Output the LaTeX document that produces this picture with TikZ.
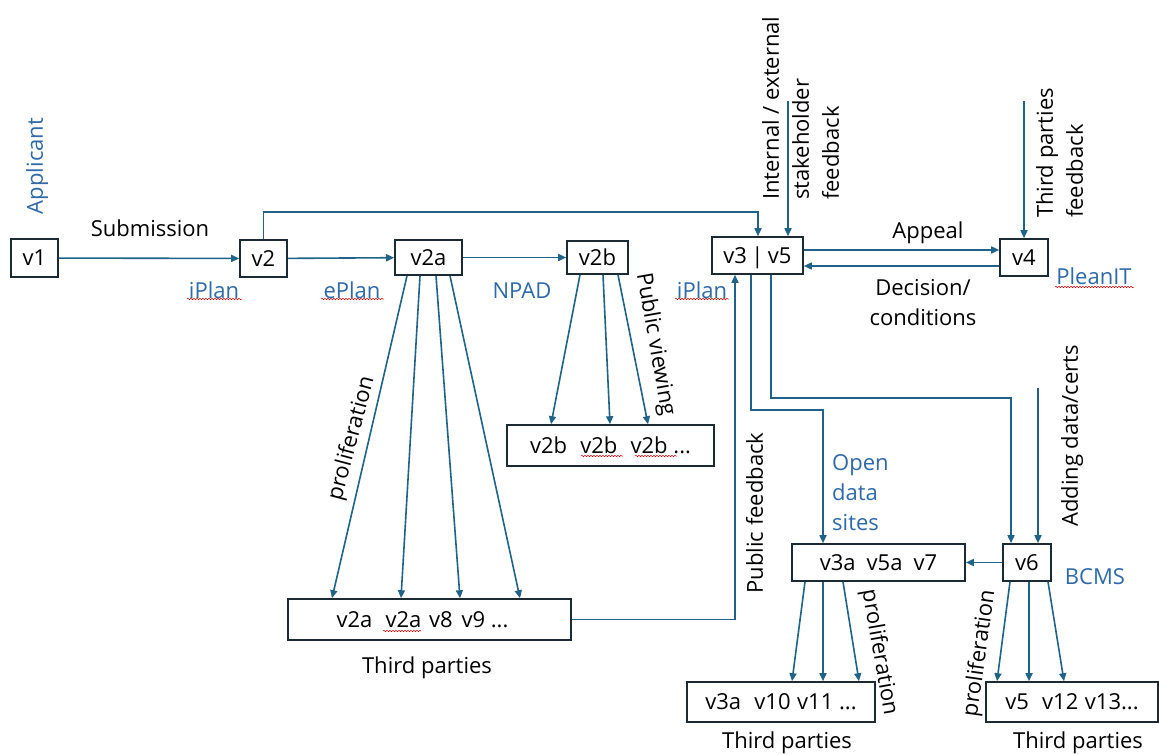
\documentclass[tikz,border=0pt]{standalone}
\usepackage{fontspec}
\setmainfont{Open Sans}
\usetikzlibrary{arrows.meta,decorations.pathmorphing}
\definecolor{linec}{HTML}{1F6388}
\definecolor{bluet}{HTML}{2E6AA8}
\definecolor{boxc}{HTML}{1B2A33}
\newcommand\fs{\fontsize{22}{30}\selectfont}
\begin{document}
\begin{tikzpicture}[x=1pt,y=-1pt,
 box/.style={draw=boxc,line width=1.6pt,inner sep=0pt,font=\fs,text height=15.5pt,text depth=0pt},
 lbl/.style={inner sep=0pt,font=\fs,text height=15.5pt,text depth=0pt},
 blbl/.style={lbl,text=bluet},
 mlbl/.style={inner sep=0pt,font=\fs},
 conn/.style={draw=linec,line width=1.6pt,-{Triangle[length=8pt,width=7pt]}},
 squig/.style={draw=red!80!black,line width=0.5pt,decorate,decoration={snake,amplitude=0.7pt,segment length=3pt}}
]
\path[use as bounding box, fill=white] (0,0) rectangle (1159,753);

% boxes
\node[box,minimum width=47pt,minimum height=38pt] (v1) at (34.5,258) {v1};
\node[box,minimum width=47pt,minimum height=37pt] (v2) at (263.5,258.5) {v2};
\node[box,minimum width=67pt,minimum height=35pt] (v2a) at (428.5,257.5) {v2a};
\node[box,minimum width=61pt,minimum height=33pt] (v2b) at (597.5,257.5) {v2b};
\node[box,minimum width=91pt,minimum height=37pt] (v3) at (757.5,255.5) {v3\hspace{0.2em}|\hspace{0.2em}v5};
\node[box,minimum width=48pt,minimum height=37pt] (v4) at (1024,257.5) {v4};
\node[box,minimum width=207pt,minimum height=41pt] (b2b) at (610.5,445.5) {v2b\hspace{0.6em}v2b\hspace{0.6em}v2b ...};
\node[box,minimum width=283pt,minimum height=41pt] (b2a) at (429.5,619.5) {\hspace{-14pt}v2a\hspace{0.6em}v2a\hspace{0.35em}v8\hspace{0.4em}v9 ...};
\node[box,minimum width=173pt,minimum height=37pt] (v3a) at (878.5,562.5) {v3a\hspace{0.5em}v5a\hspace{0.5em}v7};
\node[box,minimum width=48pt,minimum height=37pt] (v6) at (1027,562.5) {v6};
\node[box,minimum width=188pt,minimum height=40pt] (b3a) at (781,702) {v3a\hspace{0.6em}v10\hspace{0.3em}v11 ...};
\node[box,minimum width=172pt,minimum height=40pt] (b6) at (1072,702) {v5\hspace{0.6em}v12\hspace{0.3em}v13...};

% labels
\node[blbl,rotate=90] (app) at (35,166) {Applicant};
\node[lbl] (sub) at (150,229) {Submission};
\node[blbl] (ip1) at (214,291) {iPlan};
\node[blbl] (ep) at (352,291) {ePlan};
\node[blbl] (npad) at (522,291) {NPAD};
\node[blbl] (ip2) at (702,291) {iPlan};
\node[lbl] (appeal) at (928,231) {Appeal};
\node[mlbl,align=center,anchor=north] (dec) at (923,279) {Decision/\\conditions};
\node[blbl] (plean) at (1094,277) {PleanIT};
\node[mlbl,align=left,rotate=90,anchor=north west] (ief) at (762,200) {Internal / external\\stakeholder\\feedback};
\node[mlbl,align=left,rotate=90,anchor=north west] (tpf) at (1036,218) {Third parties\\feedback};
\node[lbl,rotate=75] (prol1) at (350,438) {proliferation};
\node[lbl,rotate=-80] (pv) at (657,344) {Public viewing};
\node[lbl] (tp1) at (427,666) {Third parties};
\node[lbl,rotate=90] (pf) at (755,513) {Public feedback};
\node[mlbl,align=left,anchor=north west,text=bluet] (ods) at (832,454) {Open\\data\\sites};
\node[lbl,rotate=90] (adc) at (1070,436) {Adding data/certs};
\node[blbl] (bcms) at (1095,577) {BCMS};
\node[lbl,rotate=-80] (prol3) at (881,652) {proliferation};
\node[lbl,rotate=82] (prol4) at (978,653) {proliferation};
\node[lbl] (tp3) at (787,741) {Third parties};
\node[lbl] (tp4) at (1078,741) {Third parties};

% free ends
\coordinate (t1) at (758,212);
\coordinate (ief0) at (788,101);
\coordinate (tpf0) at (1024,101);
\coordinate (adc0) at (1038,388);

% connectors
\draw[conn] (v1) -- (v2);
\draw[conn] (v2) -- (v2a);
\draw[conn] (v2a) -- (v2b);
\draw[conn] (v2.north) |- (t1) -- ([xshift=0.5pt]v3.north);
\draw[conn] (ief0) -- (ief0 |- v3.north);
\draw[conn] (tpf0) -- (v4.north);
\draw[conn] ([yshift=5.5pt]v3.east) -- ([yshift=5.5pt]v3.east -| v4.west);
\draw[conn] ([yshift=-10.5pt]v3.east -| v4.west) -- ([yshift=-10.5pt]v3.east);

\draw[conn] ([xshift=-21.5pt]v2a.south) -- ([xshift=-97.5pt]b2a.north);
\draw[conn] ([xshift=-8.5pt]v2a.south) -- ([xshift=-28.5pt]b2a.north);
\draw[conn] ([xshift=7.5pt]v2a.south) -- ([xshift=30.5pt]b2a.north);
\draw[conn] ([xshift=21.5pt]v2a.south) -- ([xshift=90.5pt]b2a.north);

\draw[conn] ([xshift=-17.5pt]v2b.south) -- ([xshift=-59.5pt]b2b.north);
\draw[conn] ([xshift=5.5pt]v2b.south) -- ([xshift=-0.5pt]b2b.north);
\draw[conn] ([xshift=20.5pt]v2b.south) -- ([xshift=37.5pt]b2b.north);

\draw[conn] (b2a.east) -| ([xshift=-22.5pt]v3.south);
\draw[conn] ([xshift=-6.5pt]v3.south) -- ++(0,135) -| ([xshift=-55.5pt]v3a.north);
\draw[conn] ([xshift=13.5pt]v3.south) -- ++(0,123) -| ([xshift=-16pt]v6.north);
\draw[conn] (adc0) -- (adc0 |- v6.north);
\draw[conn] (v6.west) -- (v6.west -| v3a.east);

\draw[conn] ([xshift=-73.5pt]v3a.south) -- ([xshift=11pt]b3a.north);
\draw[conn] ([xshift=-55.5pt]v3a.south) -- ([xshift=42pt]b3a.north);
\draw[conn] ([xshift=-35.5pt]v3a.south) -- ([xshift=78pt]b3a.north);

\draw[conn] ([xshift=-17pt]v6.south) -- ([xshift=-75pt]b6.north);
\draw[conn] ([xshift=2pt]v6.south) -- ([xshift=-43pt]b6.north);
\draw[conn] ([xshift=21pt]v6.south) -- ([xshift=-8pt]b6.north);

% spell-check squiggles
\draw[squig] (187,299) -- (242,299);
\draw[squig] (321,299) -- (384,299);
\draw[squig] (675,299) -- (729,299);
\draw[squig] (1055,287) -- (1134,287);
\draw[squig] (581,456) -- (623,456);
\draw[squig] (635,456) -- (677,456);
\draw[squig] (383,631) -- (421,631);
\end{tikzpicture}
\end{document}
